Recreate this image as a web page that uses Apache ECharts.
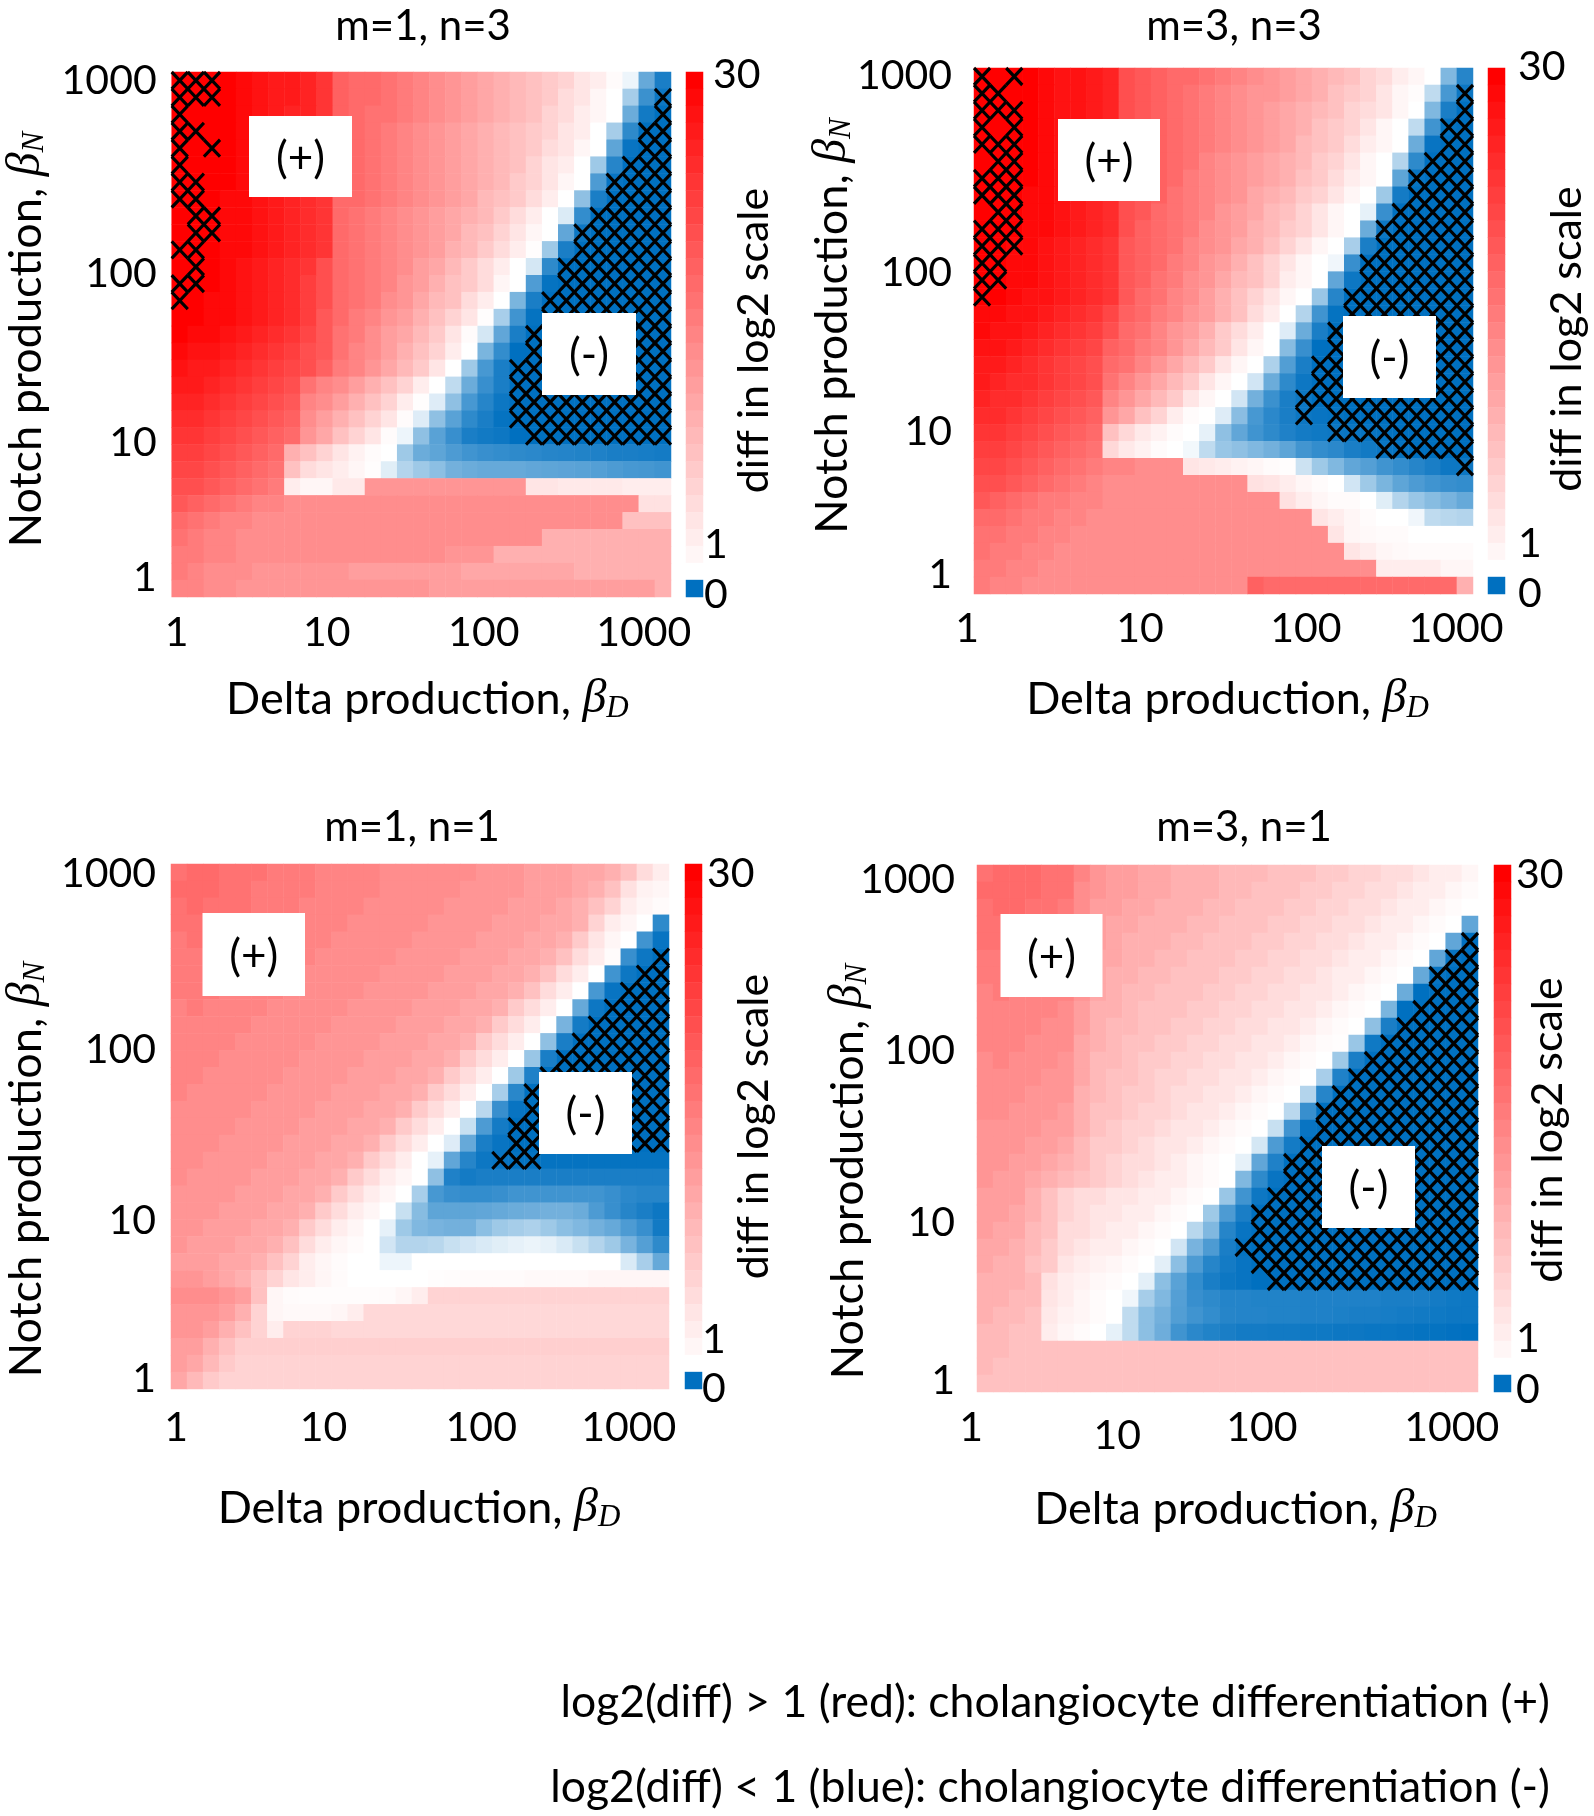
<!DOCTYPE html>
<html><head><meta charset="utf-8">
<style>html,body{margin:0;padding:0;background:#fff}#c{width:1594px;height:1816px}</style>
<script src="https://cdn.jsdelivr.net/npm/echarts@6/dist/echarts.min.js"></script>
</head><body><div id="c"></div>
<script>
// log2 difference per cell; rows run top (high Notch) to bottom, columns left to right (Delta)
const diffM1N3 = [
[30,30,30,30,29,28,27,27,26,24,19,18,18,17,16,15,14,13,12,11,10,9,8,7,6,4,3,1.5,.93,.4,.1],
[30,30,30,30,29,28,27,27,26,24,19,18,18,17,16,15,14,13,12,11,10,9,8,7,5,4,2,1,.65,.23,.05],
[30,30,30,30,29,28,27,26,26,24,19,18,17,17,16,15,14,13,12,11,10,9,8,6,5,3,2,1,.42,.07,0],
[30,30,30,30,29,28,27,26,25,24,19,18,17,16,15,14,13,12,11,10,9,8,7,6,4,3,1,.65,.18,0,0],
[30,30,30,30,29,28,27,26,25,24,19,18,17,16,15,14,13,12,11,10,9,8,7,5,4,2,1,.37,.03,0,0],
[30,30,30,30,29,28,27,26,25,24,19,18,17,16,15,14,13,12,11,10,9,8,6,4,3,1,.62,.15,0,0,0],
[30,30,30,30,29,28,27,26,25,24,19,18,17,16,15,14,13,12,11,10,9,7,6,4,2,1,.3,.03,0,0,0],
[30,30,30,29,29,28,27,26,25,24,18,18,17,16,15,14,13,12,11,9,8,7,5,3,1,.56,.1,0,0,0,0],
[30,30,30,29,29,28,27,26,25,24,18,17,16,15,14,13,12,11,10,9,7,5,3,1,.86,.2,0,0,0,0,0],
[30,30,30,29,29,28,27,26,25,24,18,17,16,15,14,13,12,11,9,8,6,4,2,1,.38,.05,0,0,0,0,0],
[30,30,30,29,29,28,27,26,25,24,18,17,16,15,14,13,12,10,9,7,5,3,1.2,.62,.1,0,0,0,0,0,0],
[30,30,30,29,28,27,26,25,24,21,18,17,16,15,14,12,11,9,7,5,3,1,.83,.18,0,0,0,0,0,0,0],
[30,30,30,29,28,27,26,25,23,21,18,17,16,15,13,12,10,8,7,5,2,1,.31,.02,0,0,0,0,0,0,0],
[30,30,29,29,28,27,26,25,23,21,18,17,16,14,13,11,9,8,5,3,1,.48,.1,0,0,0,0,0,0,0,0],
[30,30,29,29,28,27,26,25,23,20,18,16,15,13,12,10,8,6,4,1.2,.66,.25,.02,0,0,0,0,0,0,0,0],
[30,29,29,28,27,26,25,24,22,20,17,16,14,12,11,9,7,4,1.5,.83,.38,.1,0,0,0,0,0,0,0,0,0],
[29,28,28,27,26,25,24,23,21,20,17,15,14,12,10,8,6,3,1,.48,.2,0,0,0,0,0,0,0,0,0,0],
[28,27,27,26,25,24,23,22,21,19,16,15,13,11,9,7,4,1,.62,.28,.1,0,0,0,0,0,0,0,0,0,0],
[27,27,26,25,24,23,22,21,17,15,14,12,10,8,6,3,1,.75,.42,.22,.1,0,0,0,0,0,0,0,0,0,0],
[26,26,25,24,23,22,21,20,15,14,12,10,8,6,3,1.2,.87,.56,.28,.15,.05,0,0,0,0,0,0,0,0,0,0],
[25,25,24,23,22,21,20,19,14,12,10,8,6,4,1.5,.87,.56,.35,.18,.1,.02,0,0,0,0,0,0,0,0,0,0],
[24,24,23,22,21,20,19,18,13,11,8,6,4,1.5,.93,.56,.35,.22,.1,.07,.05,0,0,0,0,0,0,0,0,0,0],
[23,23,22,21,20,19,18,10,8,6,4,2.5,1.5,1,.62,.42,.37,.3,.25,.22,.2,.18,.17,.15,.14,.13,.12,.1,.1,.09,.08],
[22,22,21,20,19,18,17,8,5,4,3,2,1.2,.88,.7,.62,.55,.45,.42,.4,.4,.4,.38,.37,.36,.35,.33,.3,.28,.27,.25],
[21,21,20,19,18,17,16,3,2,2,3.5,3.5,13,13,13,13,13,13,13,13,13,13,4,4,3.5,3.5,3.5,3.5,3,3,3],
[20,19,18,17,16,15,15,14,14,14,14,14,14,14,14,14,14,14,14,14,14,14,14,14,14,14,14,14,14,4.5,4.5],
[18,17,16,15,15,14,14,14,14,14,14,14,14,14,14,14,14,14,14,14,14,14,14,14,14,14,14,14,8,8,8],
[17,16,15,15,14,14,14,14,14,14,14,14,14,14,14,14,14,14,14,14,14,14,14,10,10,10,10,10,10,10,10],
[16,16,15,15,14,14,14,14,14,14,14,14,14,14,14,14,14,13,13,13,10,10,10,10,10,10,10,10,10,10,10],
[16,15,14,14,14,13,13,13,13,13,13,12,12,12,12,12,12,12,11,11,11,11,11,11,11,10,10,10,10,10,10],
[15,15,14,14,13,13,13,13,13,13,13,13,13,13,13,13,12,12,12,12,12,12,12,12,12,12,12,12,12,12,10]
];
const diffM3N3 = [
[30,30,30,30,29,28,28,27,26,21,20,19,18,18,17,16,15,14,13,12,11,10,9,8,6,5,3,2,1,.5,.15],
[30,30,30,30,29,28,28,27,26,21,20,19,18,17,16,15,14,13,13,12,11,10,8,7,6,4,2,1.3,.75,.28,.05],
[30,30,30,30,29,28,28,27,26,21,20,19,18,17,16,15,14,13,12,11,10,9,8,6,5,4,2,1,.5,.1,0],
[30,30,30,30,29,28,28,27,26,21,20,19,18,17,16,15,14,13,12,11,10,8,7,6,4,2,1,.75,.25,.02,0],
[30,30,30,30,29,28,28,27,26,21,20,19,18,17,16,15,14,13,12,11,9,8,7,5,3,2,1,.42,.03,0,0],
[30,30,30,30,29,28,28,27,26,21,20,19,18,17,15,14,13,12,11,10,9,7,6,4,2,1,.7,.18,0,0,0],
[30,30,30,30,29,28,28,27,26,21,20,19,18,16,15,14,13,12,11,10,8,7,5,3,2,1,.37,.03,0,0,0],
[30,30,30,29,29,28,27,26,25,21,20,19,17,16,15,14,13,11,10,9,7,6,4,2,1,.62,.08,0,0,0,0],
[30,30,30,29,29,28,27,26,25,21,20,18,17,16,15,13,12,11,9,8,6,4,2,1,.9,.22,0,0,0,0,0],
[30,30,30,29,29,28,27,26,25,21,19,18,17,16,14,13,12,10,9,7,6,4,2,1,.42,.05,0,0,0,0,0],
[30,30,29,29,28,27,26,25,24,20,19,18,17,15,14,13,11,10,8,6,4,2,1,.66,.1,0,0,0,0,0,0],
[30,30,29,29,28,27,26,25,24,20,19,18,16,15,13,12,10,8,6,4,2,1,.94,.22,0,0,0,0,0,0,0],
[30,30,29,29,28,27,26,25,24,20,19,17,16,14,13,11,9,8,6,3,2,1,.38,.05,0,0,0,0,0,0,0],
[30,30,29,28,28,27,26,25,24,20,18,17,15,14,12,10,8,6,4,2,1,.6,.15,0,0,0,0,0,0,0,0],
[29,29,28,28,27,26,25,24,22,19,18,16,15,13,12,10,8,5,3,1,.7,.25,.02,0,0,0,0,0,0,0,0],
[29,28,28,27,26,25,24,23,21,18,17,15,13,12,10,7,5,3,1,.87,.42,.1,0,0,0,0,0,0,0,0,0],
[28,28,27,26,25,24,23,22,19,18,16,15,13,11,9,7,4,2,1,.53,.22,0,0,0,0,0,0,0,0,0,0],
[27,27,26,25,24,23,22,21,18,17,15,13,11,9,7,4,2,1,.68,.32,.1,0,0,0,0,0,0,0,0,0,0],
[27,26,25,25,24,23,22,21,17,15,13,11,9,7,4,2,1,.82,.42,.18,.05,0,0,0,0,0,0,0,0,0,0],
[26,25,25,24,23,22,21,20,15,13,11,9,7,4,2,1,.82,.45,.23,.1,.05,0,0,0,0,0,0,0,0,0,0],
[25,25,24,23,22,21,20,19,13,11,8,6,3,1.5,1,.87,.54,.28,.17,.1,.05,.03,.02,0,0,0,0,0,0,0,0],
[24,24,23,22,21,20,19,18,8,5.5,3.5,2.5,1.5,1,.9,.56,.38,.25,.18,.12,.08,.06,.05,.04,.03,.02,0,0,0,0,0],
[23,23,22,21,20,19,18,17,5.5,3.5,2.5,1.5,1,.95,.75,.6,.56,.5,.45,.37,.26,.2,.17,.1,.07,.04,.02,0,0,0,0],
[22,22,21,20,19,18,17,16,15,15,14,14,14,4,3.5,3,2.5,2,1.5,1.2,.8,.62,.5,.38,.33,.25,.2,.15,.1,.05,.05],
[21,21,20,19,18,17,16,15,14,14,14,14,14,14,14,14,14,4.5,4,3,2,1.5,1,.82,.62,.48,.37,.3,.25,.22,.2],
[20,19,18,17,16,16,15,15,14,14,14,14,14,14,14,14,14,14,14,4.5,3,2,1.5,1.5,1,.88,.7,.6,.53,.47,.4],
[18,18,17,16,16,15,15,14,14,14,14,14,14,14,14,14,14,14,14,14,14,4,3,2,1.5,1,1,.94,.75,.72,.7],
[17,17,16,16,15,15,14,14,14,14,14,14,14,14,14,14,14,14,14,14,14,14,4,2,1.7,1.5,1.5,1,1,1,1],
[17,16,16,15,15,14,14,14,14,14,14,14,14,14,14,14,14,14,14,14,14,14,14,4,3,2,1.7,1.5,1.5,1.5,1.5],
[16,16,15,15,14,14,14,14,14,14,14,14,14,14,14,14,14,14,14,14,14,14,14,14,14,3,3,3,3,2,2],
[16,15,15,14,14,14,14,14,14,14,14,14,14,14,14,14,14,19,18,18,18,18,18,18,18,18,18,18,18,18,10]
];
const diffM1N1 = [
[17,18,18,17,17,17,16,16,16,15,15,15,15,14,14,14,14,14,14,13,13,13,12,12,12,11,11,10,8,5,3],
[18,18,18,17,17,16,16,16,16,15,15,15,15,14,14,14,14,14,13,13,13,13,12,12,12,11,10,8,4.5,2.5,2],
[17,18,17,17,17,16,16,16,15,15,15,15,14,14,14,14,14,13,13,13,13,12,12,12,11,10,8,6,3,2,1.5],
[17,17,17,17,16,16,16,15,15,15,15,14,14,14,14,14,13,13,13,13,12,12,12,11,11,10,6,3,2,1,.18],
[16,17,17,16,16,16,15,15,15,15,14,14,14,14,14,13,13,13,13,12,12,12,11,11,10,7,4,2,1,.25,.03],
[16,16,16,16,16,15,15,15,15,14,14,14,14,14,13,13,13,13,12,12,12,11,11,10,8,5,3,1.5,.22,.05,0],
[16,16,16,16,15,15,15,15,14,14,14,14,14,13,13,13,13,12,12,12,11,11,10,8,5,3,1,.25,.05,0,0],
[16,16,16,15,15,15,15,14,14,14,14,14,13,13,13,13,12,12,12,11,11,10,8,5,3,1,.28,.03,0,0,0],
[15,16,15,15,15,15,14,14,14,14,14,13,13,13,13,12,12,12,11,11,10,7,5,3,1,.4,.05,0,0,0,0],
[15,15,15,15,15,14,14,14,14,14,13,13,13,13,12,12,12,11,11,10,7,5,3,1,.47,.08,0,0,0,0,0],
[15,15,15,15,14,14,14,14,14,13,13,13,13,12,12,12,11,11,10,7,5,3,1,.56,.1,0,0,0,0,0,0],
[15,15,15,14,14,14,14,14,13,13,13,13,12,12,12,11,11,10,7,5,3,1,.6,.1,0,0,0,0,0,0,0],
[15,15,14,14,14,14,14,13,13,13,13,12,12,12,11,11,10,7,5,3,1,.62,.12,0,0,0,0,0,0,0,0],
[15,14,14,14,14,14,13,13,13,13,12,12,12,11,11,10,7,5,3,1,.66,.16,0,0,0,0,0,0,0,0,0],
[14,14,14,14,14,13,13,13,13,12,12,12,11,11,10,7,5,3,1,.73,.22,.03,0,0,0,0,0,0,0,0,0],
[14,14,14,14,13,13,13,13,12,12,12,11,11,10,7,5,3,1,.78,.3,.08,0,0,0,0,0,0,0,0,0,0],
[14,14,14,13,13,13,13,12,12,12,11,11,10,7,5,3,1,.87,.4,.1,.03,0,0,0,0,0,0,0,0,0,0],
[14,14,13,13,13,13,12,12,12,11,11,10,7,5,3,1,.9,.38,.15,.05,.03,.02,.02,.02,.02,.02,.02,.02,.02,.02,.02],
[14,13,13,13,13,12,12,12,11,11,10,7,5,3,2,1,.56,.12,.08,.1,.1,.1,.1,.1,.1,.1,.1,.1,.1,.1,.1],
[13,13,13,13,12,12,12,11,11,10,7,5,3,2,1,.66,.28,.22,.2,.2,.22,.25,.25,.25,.25,.25,.25,.22,.17,.15,.15],
[13,13,13,12,12,12,11,11,10,7,5,3,2,1,.78,.53,.37,.37,.37,.38,.4,.42,.43,.45,.45,.42,.3,.22,.15,.1,.05],
[13,13,12,12,12,11,11,10,7,5,3,2,1,.9,.62,.5,.47,.45,.45,.55,.62,.65,.68,.62,.55,.5,.45,.4,.3,.22,.07],
[13,12,12,12,11,11,10,8,5,3,2,1.5,1,.82,.7,.7,.72,.78,.82,.85,.88,.9,.92,.9,.85,.78,.7,.62,.47,.33,.18],
[12,12,12,11,11,10,8,6,3,2,1.5,1,1,.93,.93,1,1,1,1,1,1,1,1,1,1,1,1,1,.85,.66,.4],
[13,13,12,11,10,8,6,4,3,2,1.5,1,1,1,1,1,1.2,1.3,1.5,1.5,1.5,1.5,1.7,1.7,1.7,1.7,2,2,2,2,2],
[14,14,14,13,12,8,2,1.5,1.3,1.3,1.3,1.3,1.3,1.5,2,3,6,6,6,6,6,6,6,6,6,6,6,6,6,6,6],
[13,13,13,12,10,6,2,1.7,1.7,1.7,2,3,5.5,5.5,5.5,5.5,5.5,5.5,5.5,5.5,5.5,5.5,5.5,5.5,5.5,5.5,5.5,5.5,5.5,5.5,5.5],
[13,13,12,10,8,6,3,6,6,6,5.5,5.5,5.5,5.5,5.5,5.5,5.5,5.5,5.5,5.5,5.5,5.5,5.5,5.5,5.5,5.5,5.5,5.5,5.5,5.5,5.5],
[12,12,10,8,6.5,6.5,6.5,6.5,6.5,6.5,6.5,6.5,6.5,6.5,6.5,6.5,6.5,6.5,6.5,6.5,6.5,6.5,6.5,6.5,6.5,6.5,6.5,6.5,6.5,6.5,6.5],
[12,11,9,7,6,6,6,6,6,6,6,6,6,6,6,6,6,6,6,6,6,6,6,6,6,6,6,6,6,6,6],
[11,9,7,6,6,6,6,6,6,6,6,6,6,6,6,6,6,6,6,6,6,6,6,6,6,6,6,6,6,6,6]
];
const diffM3N1 = [
[17,18,18,18,17,17,15,13,12,12,11,11,10,10,10,9,9,9,8,8,8,7,7,6,6,5,5,4,3,3,2],
[18,18,18,18,17,17,14,13,12,12,11,11,10,10,10,9,9,8,8,8,7,7,6,6,5,5,4,3,3,2,1.5],
[17,18,18,17,17,16,14,12,12,11,11,10,10,10,9,9,8,8,8,7,7,6,6,5,5,4,3,3,2,1.5,1],
[17,17,17,17,16,16,14,12,11,11,10,10,10,9,9,8,8,8,7,7,6,6,5,5,4,3,3,2,1.5,1,.38],
[17,17,17,16,16,16,13,12,11,10,10,10,9,9,8,8,8,7,7,6,6,5,5,4,3,3,2,1.5,1,.38,0],
[16,16,16,16,16,15,13,11,11,10,10,9,9,8,8,8,7,7,6,6,5,5,4,3,3,2,1.5,1,.38,.03,0],
[16,16,16,16,15,15,13,11,10,10,9,9,8,8,8,7,7,6,6,5,5,4,3,3,2,1.5,1,.4,.03,0,0],
[15,16,15,15,15,15,13,11,10,9,9,8,8,8,7,7,6,6,5,5,4,4,3,2,1.5,1,.42,0,0,0,0],
[15,15,15,15,15,14,12,10,10,9,8,8,8,7,7,6,6,5,5,4,4,3,2,1.5,1,.48,0,0,0,0,0],
[15,15,15,15,14,14,12,10,9,9,8,8,7,7,6,6,5,5,4,4,3,2,1.5,1,.56,.1,0,0,0,0,0],
[15,15,15,14,14,14,11,10,9,8,8,7,7,6,6,5,5,4,4,3,2,1.5,1.2,.6,.06,0,0,0,0,0,0],
[14,15,14,14,14,13,11,9,9,8,7,7,6,6,5,5,4,4,3,2,1.5,1,.62,.1,0,0,0,0,0,0,0],
[14,14,14,14,13,13,11,9,8,8,7,6,6,5,5,4,4,3,2,1.5,1,.66,.12,0,0,0,0,0,0,0,0],
[14,14,14,13,13,13,10,9,8,7,7,6,5,5,4,4,3,2,1.5,1,.7,.15,0,0,0,0,0,0,0,0,0],
[14,14,13,13,13,12,10,8,8,7,6,6,5,4,4,3,2,1.5,1,.73,.22,0,0,0,0,0,0,0,0,0,0],
[13,13,13,13,12,12,10,8,7,6,6,5,4,4,3,2,1.5,1,.78,.25,.03,0,0,0,0,0,0,0,0,0,0],
[13,13,13,12,12,11,9,7,7,6,5,4,4,3,2,1.5,1,.83,.3,.08,0,0,0,0,0,0,0,0,0,0,0],
[13,13,12,12,11,10,9,7,6,5,5,4,3,2,1.5,1,.9,.38,.12,0,0,0,0,0,0,0,0,0,0,0,0],
[13,12,12,11,10,9,8,7,6,5,4,3,3,2,1.5,1,.5,.18,.03,0,0,0,0,0,0,0,0,0,0,0,0],
[12,12,12,10,8,6,5,5,4,4,3,3,2,1.5,1,.6,.25,.05,0,0,0,0,0,0,0,0,0,0,0,0,0],
[12,12,11,10,8,6,5,4,4,3,3,2,1.5,1,.62,.3,.1,0,0,0,0,0,0,0,0,0,0,0,0,0,0],
[12,11,11,9,8,5,5,4,3,3,2,1.5,1,.72,.5,.15,.03,0,0,0,0,0,0,0,0,0,0,0,0,0,0],
[11,11,10,9,7,5,4,3,3,2,1.5,1,.82,.47,.3,.1,.02,0,0,0,0,0,0,0,0,0,0,0,0,0,0],
[11,10,10,8,7,4,3,2.5,2,1.5,1,.89,.55,.3,.15,.08,.03,0,0,0,0,0,0,0,0,0,0,0,0,0,0],
[10,10,10,9,4.5,3,2.5,1.8,1.5,1,.89,.55,.35,.2,.1,.05,.03,0,0,0,0,0,0,0,0,0,0,0,0,0,0],
[10,10,9,9,4,3,2,1.5,1,.94,.65,.5,.33,.22,.18,.14,.14,.13,.13,.13,.12,.12,.12,.12,.12,.1,.1,.1,.08,.06,.05],
[10,9,9,8,3.5,2.5,2,1.5,1,.75,.55,.45,.32,.25,.2,.15,.14,.14,.13,.13,.12,.12,.11,.1,.1,.09,.08,.07,.06,.05,.05],
[9,9,8,8,3,2,1.5,1,.9,.75,.55,.43,.25,.17,.13,.1,.08,.08,.07,.07,.06,.06,.05,.05,.04,.04,.03,.02,.02,.01,0],
[9,9,8,8,8,8,8,8,8,8,8,8,8,8,8,8,8,8,8,8,8,8,8,8,8,8,8,8,8,8,8],
[9,8,8,8,8,8,8,8,8,8,8,8,8,8,8,8,8,8,8,8,8,8,8,8,8,8,8,8,8,8,8],
[8,8,8,8,8,8,8,8,8,8,8,8,8,8,8,8,8,8,8,8,8,8,8,8,8,8,8,8,8,8,8]
];
// hatched cells: [row, first column, last column]
const hatchM1N3 = [[0,0,2],[1,0,2],[2,0,0],[3,0,1],[4,0,0],[4,2,2],[5,0,0],[6,0,1],[7,0,1],[8,1,2],[9,1,2],[10,0,1],[11,1,1],[12,0,1],[13,0,0],
[1,30,30],[2,30,30],[3,29,30],[4,29,30],[5,28,30],[6,27,30],[7,27,30],[8,26,30],[9,25,30],[10,25,30],[11,24,30],[12,24,30],[13,23,30],[14,23,30],[15,22,30],[16,22,30],[17,21,30],[18,21,30],[19,21,30],[20,21,30],[21,22,30]];
const hatchM3N3 = [[0,0,0],[0,2,2],[1,0,1],[2,0,2],[3,0,0],[3,2,2],[4,0,2],[5,1,2],[6,0,2],[7,0,2],[8,1,2],[9,0,2],[10,0,2],[11,0,1],[12,0,1],[13,0,0],
[1,30,30],[2,30,30],[3,29,30],[4,29,30],[5,28,30],[6,27,30],[7,27,30],[8,26,30],[9,25,30],[10,25,30],[11,24,30],[12,24,30],[13,23,30],[14,23,30],[15,22,30],[16,22,30],[17,21,30],[18,21,30],[19,20,30],[20,20,20],[20,22,30],[21,22,30],[22,25,30],[23,30,30]];
const hatchM1N1 = [[5,30,30],[6,29,30],[7,28,30],[8,27,30],[9,26,30],[10,25,30],[11,24,30],[12,23,30],[13,22,30],[14,22,30],[15,21,30],[16,21,30],[17,20,22]];
const hatchM3N1 = [[4,30,30],[5,29,30],[6,28,30],[7,28,30],[8,27,30],[9,26,30],[10,25,30],[11,24,30],[12,23,30],[13,22,30],[14,21,30],[15,21,30],[16,20,30],[17,19,30],[18,19,30],[19,18,30],[20,17,30],[21,17,30],[22,16,30],[23,17,30],[24,18,30]];
const colorbarValues = [30,29,28,27,26,25,24,23,22,21,20,19,18,17,16,15,14,13,12,11,10,9,8,7,6,5,4,3,2,1,0];
const tickLabels = ['1','10','100','1000'];
const barLabels = ['30','1','0'];
const panelTitles = ['m=1, n=3','m=3, n=3','m=1, n=1','m=3, n=1'];
const legendLines = ['log2(diff) > 1 (red): cholangiocyte differentiation (+)','log2(diff) < 1 (blue): cholangiocyte differentiation (-)'];

const FONT='Lato', NC=31;
const panels=[
 {v:diffM1N3,h:hatchM1N3,t:panelTitles[0],tx:418,ty:0,g:[171.7,72,499.3,525],xi:[0,9,19,29],yi:[29,21,11,0],xm:15,ym:15,
  xd:[-3,2,-2,-3],yd:[6,7,7,0],bd:[-6,7,6],bx:[4.5,0,0],b:[686,72,17,525],bi:[0,27,30],bm:1,xn:[6,78],yn:[10,121],bn:[12,30],plus:[249,116,103,81],minus:[542,313,94,82]},
 {v:diffM3N3,h:hatchM3N3,t:panelTitles[1],tx:1229,ty:0,g:[974,68,499,526],xi:[0,10,20,30],yi:[29,21,11,0],xm:14,ym:22,
  xd:[-15,-3,2,-9],yd:[6,-1,10,-1],bd:[-10,9,8],bx:[0,0,0],b:[1488,68,17,526],bi:[0,27,30],bm:13,xn:[4,81],yn:[-10,117],bn:[16,41],plus:[1058,119,102,82],minus:[1343,316,93,82]},
 {v:diffM1N1,h:hatchM1N1,t:panelTitles[2],tx:407,ty:801,g:[171,864,498,525],xi:[0,9,19,28],yi:[30,20,10,0],xm:18,ym:15,
  xd:[-3,0,-3,0],yd:[-2,10,8,1],bd:[1,10,8],bx:[2.5,0,0],b:[685,864,17,525],bi:[0,27,30],bm:0,xn:[-1,95],yn:[86,120],bn:[0,31],plus:[202.5,913,102.5,83],minus:[539,1072,93,82]},
 {v:diffM3N1,h:hatchM3N1,t:panelTitles[3],tx:1239,ty:801,g:[977,865,501,527],xi:[0,8,17,29],yi:[30,20,10,0],xm:15,ym:22,
  xd:[-14,3,2,-2],xy:[0,4,0,0],yd:[-3,9,7,6],bd:[1,6,6],bx:[0,0,0],b:[1494,865,17,527],bi:[0,27,30],bm:5,xn:[8,93],yn:[86,104],bn:[3,16],plus:[1000.5,914,102,83],minus:[1322,1146,93,82]}
];

function colorStops(){
  const out=['#0070c0','#ffffff'];
  for(let i=2;i<=30;i++){const k=Math.round(255*(30-i)/29);out.push(`rgb(255,${k},${k})`);}
  return out;
}
const idx=Array.from({length:NC},(_,i)=>String(i));
const nameRich={
  t:{fontFamily:FONT,fontSize:45,color:'#000'},
  b:{fontFamily:'Liberation Serif',fontStyle:'italic',fontSize:48,color:'#000'},
  s:{fontFamily:'Liberation Serif',fontStyle:'italic',fontSize:31,color:'#000',padding:[18,0,0,0]}
};
// nudges one hand-placed label by dx,dy pixels from its tick
function tickStyle(dx,dy){
  return {fontFamily:FONT,fontSize:41,color:'#000',padding:[Math.max(0,2*dy),Math.max(0,-2*dx),Math.max(0,-2*dy),Math.max(0,2*dx)]};
}
function tickAxis(ids,arr,dxs,dys,margin){
  const rich={};
  ids.forEach((_,k)=>{rich['k'+k]=tickStyle(dxs?dxs[k]:0,dys?dys[k]:0);});
  return {interval:(n)=>ids.includes(n),formatter:(v,n)=>{const k=ids.indexOf(n);return k<0?'':`{k${k}|${arr[k]}}`;},
    rich,margin,fontFamily:FONT,fontSize:41,color:'#000',hideOverlap:false,showMinLabel:true,showMaxLabel:true};
}
function padAlong(d){return d>0?[0,d,0,0]:(d<0?[0,0,0,-d]:0);}
const grid=[],xAxis=[],yAxis=[],series=[],title=[],graphic=[];
const hmSeries=[];
panels.forEach((p,i)=>{
  grid.push({left:p.g[0],top:p.g[1],width:p.g[2],height:p.g[3],outerBoundsMode:'none'});
  xAxis.push({gridIndex:i,type:'category',data:idx,axisLine:{show:false},axisTick:{show:false},splitLine:{show:false},
    axisLabel:tickAxis(p.xi,tickLabels,p.xd,p.xy||null,p.xm),
    name:`{t|Delta production, }{b|β}{s|D}`,nameLocation:'middle',nameGap:p.xn[1],nameMoveOverlap:false,nameTextStyle:{rich:nameRich,padding:padAlong(-2*p.xn[0])}});
  yAxis.push({gridIndex:i,type:'category',inverse:true,data:idx,axisLine:{show:false},axisTick:{show:false},splitLine:{show:false},
    axisLabel:tickAxis(p.yi,tickLabels,null,p.yd,p.ym),
    name:`{t|Notch production, }{b|β}{s|N}`,nameLocation:'middle',nameGap:p.yn[1],nameRotate:90,nameMoveOverlap:false,nameTextStyle:{rich:nameRich,padding:padAlong(p.yn[0])}});
  const cells=[];
  p.v.forEach((row,r)=>row.forEach((val,c)=>cells.push([c,r,val])));
  hmSeries.push(series.length);
  series.push({type:'heatmap',xAxisIndex:i,yAxisIndex:i,data:cells,progressive:0,silent:true,itemStyle:{borderWidth:0},emphasis:{disabled:true}});
  title.push({text:p.t,left:p.tx,top:p.ty,textAlign:'center',textStyle:{fontFamily:FONT,fontWeight:'normal',fontSize:42,color:'#000'}});
  ['+','-'].forEach(s=>{const q=s==='+'?p.plus:p.minus;
    graphic.push({type:'rect',z:100,shape:{x:q[0],y:q[1],width:q[2],height:q[3]},style:{fill:'#fff'}});
    graphic.push({type:'text',z:101,x:q[0]+q[2]/2,y:q[1]+q[3]/2+2,style:{text:`(${s})`,fontFamily:FONT,fontSize:44,fill:'#000',textAlign:'center',textVerticalAlign:'middle'}});
  });
});
panels.forEach((p,i)=>{
  const pts=[];
  p.h.forEach(([r,a,b])=>{for(let c=a;c<=b;c++)pts.push([c,r]);});
  series.push({type:'scatter',xAxisIndex:i,yAxisIndex:i,data:pts,silent:true,symbol:'path://M0 0L10 10M10 0L0 10',
    symbolSize:[p.g[2]/NC,p.g[3]/NC],itemStyle:{color:'rgba(0,0,0,0)',borderColor:'#000',borderWidth:3.2,opacity:1},emphasis:{disabled:true},z:5});
});
panels.forEach((p,i)=>{
  const g=panels.length+i;
  grid.push({left:p.b[0],top:p.b[1],width:p.b[2],height:p.b[3],outerBoundsMode:'none'});
  xAxis.push({gridIndex:g,type:'category',data:['0'],show:false});
  yAxis.push({gridIndex:g,type:'category',inverse:true,position:'right',data:idx,axisLine:{show:false},axisTick:{show:false},splitLine:{show:false},
    axisLabel:tickAxis(p.bi,barLabels,p.bx,p.bd,p.bm),
    name:'diff in log2 scale',nameLocation:'middle',nameRotate:90,nameGap:p.bn[1],nameMoveOverlap:false,
    nameTextStyle:{fontFamily:FONT,fontSize:43,color:'#000',padding:padAlong(p.bn[0])}});
  hmSeries.push(series.length);
  series.push({type:'heatmap',xAxisIndex:g,yAxisIndex:g,data:colorbarValues.map((v,r)=>[0,r,v]),progressive:0,silent:true,itemStyle:{borderWidth:0},emphasis:{disabled:true}});
});
legendLines.forEach((t,i)=>graphic.push({type:'text',z:101,x:1550,y:[1703,1788][i],style:{text:t,fontFamily:FONT,fontSize:44.5,fill:'#000',textAlign:'right',textVerticalAlign:'middle'}}));
const chart=echarts.init(document.getElementById('c'),null,{renderer:'canvas',width:1594,height:1816});
chart.setOption({animation:false,backgroundColor:'#fff',title,grid,xAxis,yAxis,series,graphic,
  tooltip:{show:false},
  visualMap:{type:'continuous',show:false,min:0,max:30,dimension:2,seriesIndex:hmSeries,inRange:{color:colorStops()}}});
</script></body></html>
